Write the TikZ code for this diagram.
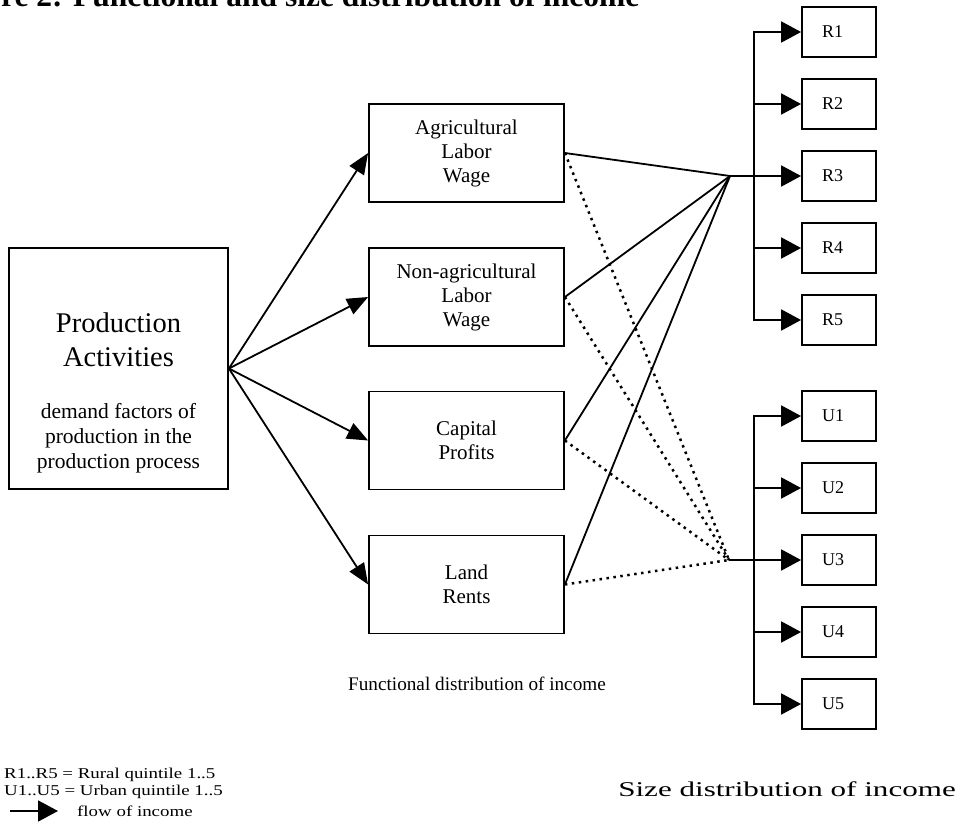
\documentclass[tikz,border=0pt]{standalone}
\usepackage{fontspec}
\setmainfont{Liberation Serif}
\newfontfamily\legfont[FakeStretch=1.26]{Liberation Serif}
\newfontfamily\sizefont[FakeStretch=1.48]{Liberation Serif}
\usetikzlibrary{arrows.meta}
\begin{document}
\begin{tikzpicture}[x=1pt,y=-1pt,
  frame/.style={draw,line width=1.8pt,inner sep=0pt},
  midbox/.style={frame,minimum width=195pt,minimum height=98pt,align=center,font=\fontsize{21}{24}\selectfont},
  qbox/.style={frame,minimum width=74pt,minimum height=50pt},
  qlabel/.style={anchor=west,inner sep=0pt,font=\fontsize{18}{20}\selectfont},
  flow/.style={line width=1.8pt,-{Triangle[length=21pt,width=17pt]}},
  qflow/.style={line width=1.8pt,line join=miter,-{Triangle[length=20pt,width=21pt]}},
  solidl/.style={line width=1.8pt},
  dotl/.style={line width=2.5pt,dash pattern=on 2.5pt off 4.5pt},
  legend/.style={inner sep=0pt,anchor=west,font=\legfont\fontsize{15}{17}\selectfont},
]
\useasboundingbox (0,0) rectangle (964,837);

% title (clipped at the top, as in the source)
\node[anchor=base west,inner sep=0pt,font=\bfseries\fontsize{31.5}{34}\selectfont] (title) at (1,7) {re 2: Functional and size distribution of income};

% production box
\node[frame,minimum width=219pt,minimum height=241pt] (prod) at (118.5,368.5) {};
\node[inner sep=0pt,align=center,font=\fontsize{28.5}{34}\selectfont] (prodtitle) at (118.5,340) {Production\\Activities};
\node[inner sep=0pt,align=center,font=\fontsize{21.5}{25}\selectfont] (proddesc) at (118.5,438) {demand factors of\\production in the\\production process};

% functional boxes
\node[midbox] (agri) at (466.5,153) {Agricultural\\Labor\\Wage};
\node[midbox] (nonagri) at (466.5,297) {Non-agricultural\\Labor\\Wage};
\node[midbox] (capital) at (466.5,440.5) {Capital\\Profits};
\node[midbox] (land) at (466.5,584.5) {Land\\Rents};

\foreach \b in {agri,nonagri,capital,land}{
  \draw[flow] (prod.east) -- (\b.west);
}

% hubs
\coordinate (rhub) at (730,176);
\coordinate (uhub) at (729,560);
\foreach \b in {agri,nonagri,capital,land}{
  \draw[solidl] (\b.east) -- (rhub);
  \draw[dotl] (\b.east) -- (uhub);
}

% quintile boxes
\foreach \i/\y in {1/32,2/104,3/176,4/248,5/320}{
  \node[qbox] (R\i) at (839,\y) {};
  \node[qlabel] (RL\i) at (822,\y) {R\i};
  \coordinate (rb\i) at (754,\y);
}
\foreach \i/\y in {1/416,2/488,3/560,4/632,5/704}{
  \node[qbox] (U\i) at (839,\y) {};
  \node[qlabel] (UL\i) at (822,\y) {U\i};
  \coordinate (ub\i) at (754,\y);
}
\draw[qflow] (rb3) -- (rb1) -- (R1.west);
\draw[qflow] (rb3) -- (rb5) -- (R5.west);
\draw[qflow] (rb2) -- (R2.west);
\draw[qflow] (rb4) -- (R4.west);
\draw[qflow] (rhub) -- (R3.west);
\draw[qflow] (ub3) -- (ub1) -- (U1.west);
\draw[qflow] (ub3) -- (ub5) -- (U5.west);
\draw[qflow] (ub2) -- (U2.west);
\draw[qflow] (ub4) -- (U4.west);
\draw[qflow] (uhub) -- (U3.west);

% captions
\node[inner sep=0pt,font=\fontsize{19.2}{22}\selectfont] (func) at (477,684) {Functional distribution of income};
\node[inner sep=0pt,anchor=east,font=\sizefont\fontsize{21}{24}\selectfont] (sizecap) at (956,789) {Size distribution of income};

% legend
\node[legend] (leg1) at (4,775) {R1..R5 = Rural quintile 1..5};
\node[legend] (leg2) at (4,792) {U1..U5 = Urban quintile 1..5};
\coordinate (legA) at (10,811);
\coordinate (legB) at (58,811);
\draw[qflow] (legA) -- (legB);
\node[legend] (leg3) at (77,811) {flow of income};
\end{tikzpicture}
\end{document}
